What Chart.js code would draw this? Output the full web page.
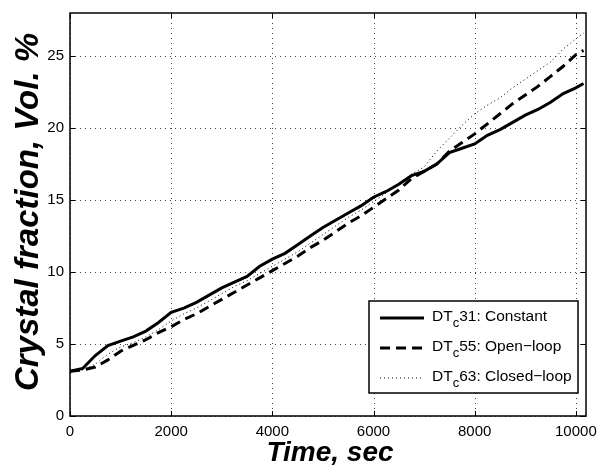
<!DOCTYPE html>
<html><head><meta charset="utf-8">
<script src="https://cdn.jsdelivr.net/npm/chart.js@4/dist/chart.umd.min.js"></script>
<style>html,body{margin:0;padding:0;background:#fff}#wrap{width:599px;height:465px}</style>
</head><body><div id="wrap"><canvas id="c" width="599" height="465"></canvas></div>
<script>
const timeSec = [0,250,500,750,1000,1250,1500,1750,2000,2250,2500,2750,3000,3250,3500,3750,4000,4250,4500,4750,5000,5250,5500,5750,6000,6250,6500,6750,7000,7250,7500,7750,8000,8250,8500,8750,9000,9250,9500,9750,10000,10150];
const constant31 = [3.1,3.3,4.2,4.9,5.2,5.5,5.9,6.5,7.2,7.5,7.9,8.4,8.9,9.3,9.7,10.4,10.9,11.3,11.9,12.5,13.1,13.6,14.1,14.6,15.2,15.6,16.1,16.7,17.0,17.5,18.3,18.6,18.9,19.5,19.9,20.4,20.9,21.3,21.8,22.4,22.8,23.1];
const openLoop55 = [3.1,3.2,3.4,3.9,4.5,4.9,5.3,5.8,6.2,6.7,7.1,7.6,8.1,8.6,9.1,9.6,10.1,10.6,11.1,11.7,12.2,12.8,13.4,13.9,14.5,15.1,15.7,16.5,17.0,17.5,18.4,19.0,19.6,20.3,21.0,21.7,22.3,22.9,23.6,24.3,25.1,25.4];
const closedLoop63 = [3.1,3.2,3.6,4.3,4.8,5.1,5.5,6.0,6.6,7.1,7.5,8.0,8.5,9.0,9.4,9.9,10.4,10.9,11.4,12.0,12.6,13.2,13.8,14.3,14.9,15.5,16.1,16.8,17.3,18.4,19.3,20.2,21.0,21.6,22.1,22.8,23.4,24.0,24.6,25.5,26.2,26.6];
const xTicks = [0,2000,4000,6000,8000,10000];
const yTicks = [0,5,10,15,20,25];
const seriesNames = ["31: Constant","55: Open\u2212loop","63: Closed\u2212loop"];
const xTitle = "Time, sec";
const yTitle = "Crystal fraction, Vol. %";

const FONT = '"Liberation Sans", Arial, Helvetica, sans-serif';
const pts = arr => arr.map((v,i)=>({x:timeSec[i], y:v}));

const styles = [
  {borderWidth:3, borderDash:[]},
  {borderWidth:3, borderDash:[10,6]},
  {borderWidth:1, borderDash:[1,3]}
];

const framePlugin = {
  id:'frame',
  beforeDatasetsDraw(chart){
    const {ctx, chartArea:a, scales:{x,y}} = chart;
    ctx.save();
    ctx.strokeStyle = '#444'; ctx.lineWidth = 1; ctx.setLineDash([1,4]);
    xTicks.forEach(t=>{ const px=Math.round(x.getPixelForValue(t))+0.5; ctx.beginPath(); ctx.moveTo(px,a.top); ctx.lineTo(px,a.bottom); ctx.stroke();});
    yTicks.forEach(t=>{ const py=Math.round(y.getPixelForValue(t))+0.5; ctx.beginPath(); ctx.moveTo(a.left,py); ctx.lineTo(a.right,py); ctx.stroke();});
    ctx.restore();
  },
  afterDatasetsDraw(chart){
    const {ctx, chartArea:a, scales:{x,y}} = chart;
    ctx.save();
    ctx.setLineDash([]);
    ctx.strokeStyle='#000'; ctx.lineWidth=1;
    const tl=5;
    xTicks.forEach(t=>{ const px=Math.round(x.getPixelForValue(t))+0.5; ctx.beginPath(); ctx.moveTo(px,a.bottom); ctx.lineTo(px,a.bottom-tl); ctx.moveTo(px,a.top); ctx.lineTo(px,a.top+tl); ctx.stroke();});
    yTicks.forEach(t=>{ const py=Math.round(y.getPixelForValue(t))+0.5; ctx.beginPath(); ctx.moveTo(a.left,py); ctx.lineTo(a.left+tl,py); ctx.moveTo(a.right,py); ctx.lineTo(a.right-tl,py); ctx.stroke();});
    ctx.lineWidth=1.5;
    ctx.strokeRect(a.left, a.top, a.right-a.left, a.bottom-a.top);
    // titles
    ctx.fillStyle='#000';
    ctx.font = 'italic bold 28px '+FONT;
    ctx.textAlign='center'; ctx.textBaseline='alphabetic';
    ctx.fillText(xTitle, 330, 461);
    ctx.save();
    ctx.translate(38, 212);
    ctx.rotate(-Math.PI/2);
    ctx.font = 'italic bold 33px '+FONT;
    ctx.fillText(yTitle, 0, 0);
    ctx.restore();
    // legend
    const bx=369, by=301, bw=209, bh=92;
    ctx.fillStyle='#fff'; ctx.fillRect(bx,by,bw,bh);
    ctx.lineWidth=1.5; ctx.strokeStyle='#000'; ctx.strokeRect(bx,by,bw,bh);
    const rows=[316,346,376];
    rows.forEach((ry,i)=>{
      const st=styles[i];
      ctx.lineWidth=st.borderWidth; ctx.setLineDash(st.borderDash);
      ctx.beginPath(); ctx.moveTo(380,ry+2); ctx.lineTo(424,ry+2); ctx.stroke();
      ctx.setLineDash([]);
      ctx.fillStyle='#000'; ctx.textAlign='left'; ctx.textBaseline='alphabetic';
      ctx.font='15.5px '+FONT;
      let tx=432;
      ctx.fillText('DT', tx, ry+5); tx+=ctx.measureText('DT').width;
      ctx.font='13px '+FONT;
      ctx.fillText('c', tx, ry+11); const cw=ctx.measureText('c').width;
      ctx.font='15.5px '+FONT;
      ctx.fillText(seriesNames[i], tx+cw, ry+5);
    });
    ctx.restore();
  }
};

new Chart(document.getElementById('c'), {
  type:'line',
  data:{datasets:[
    {label:'DTc31: Constant', data:pts(constant31), borderColor:'#000', borderWidth:styles[0].borderWidth, borderDash:styles[0].borderDash, pointRadius:0, tension:0},
    {label:'DTc55: Open-loop', data:pts(openLoop55), borderColor:'#000', borderWidth:styles[1].borderWidth, borderDash:styles[1].borderDash, pointRadius:0, tension:0},
    {label:'DTc63: Closed-loop', data:pts(closedLoop63), borderColor:'#000', borderWidth:styles[2].borderWidth, borderDash:styles[2].borderDash, pointRadius:0, tension:0}
  ]},
  options:{
    responsive:false, animation:false, devicePixelRatio:1,
    layout:{padding:{top:13,right:13,left:0,bottom:0}},
    plugins:{legend:{display:false}, tooltip:{enabled:false}},
    scales:{
      x:{type:'linear', min:0, max:10200,
        afterBuildTicks:s=>{s.ticks = xTicks.map(v=>({value:v}));},
        afterFit:s=>{s.height=49; s.paddingLeft=0; s.paddingRight=0;},
        grid:{display:false, drawTicks:false}, border:{display:false},
        ticks:{color:'#000', font:{family:FONT,size:15}, padding:7, maxRotation:0, callback:v=>String(v)}},
      y:{type:'linear', min:0, max:28,
        afterBuildTicks:s=>{s.ticks = yTicks.map(v=>({value:v}));},
        afterFit:s=>{s.width=70; s.paddingTop=0; s.paddingBottom=0;},
        grid:{display:false, drawTicks:false}, border:{display:false},
        ticks:{color:'#000', font:{family:FONT,size:15}, padding:6, callback:v=>String(v)}}
    }
  },
  plugins:[framePlugin]
});
</script></body></html>
